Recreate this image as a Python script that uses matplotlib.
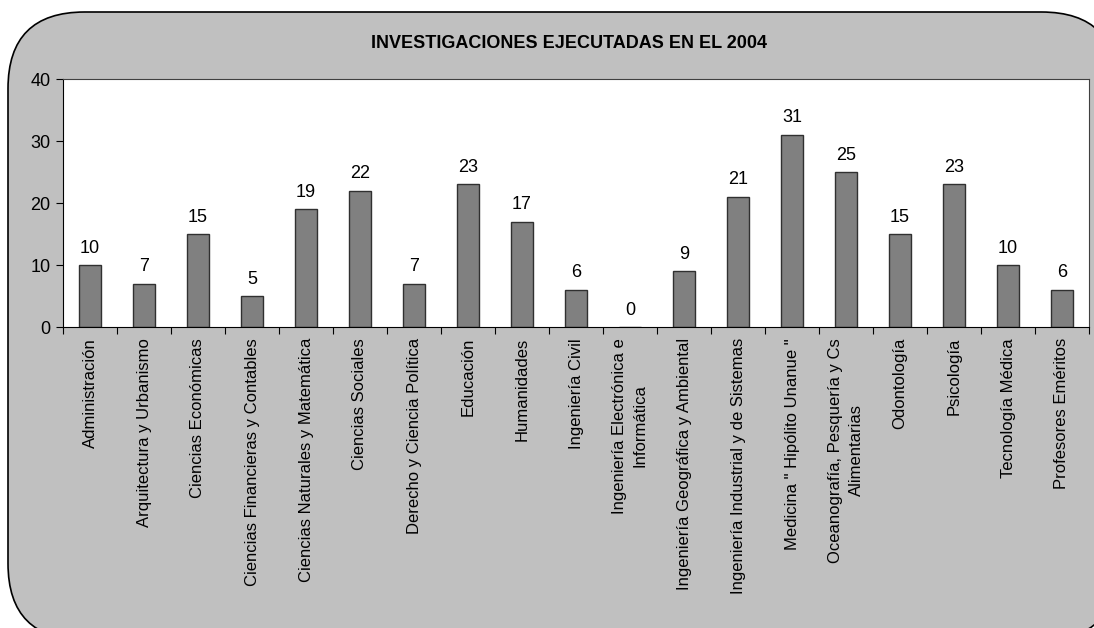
import numpy as np
import matplotlib
matplotlib.use("Agg")
import matplotlib.pyplot as plt
from matplotlib.patches import FancyBboxPatch

plt.rcParams['font.family'] = ['Liberation Sans', 'DejaVu Sans']

# datos
facultades = ["Administración", "Arquitectura y Urbanismo", "Ciencias Económicas",
              "Ciencias Financieras y Contables", "Ciencias Naturales y Matemática",
              "Ciencias Sociales", "Derecho y Ciencia Política", "Educación",
              "Humanidades", "Ingeniería Civil", "Ingeniería Electrónica e\nInformática",
              "Ingeniería Geográfica y Ambiental", "Ingeniería Industrial y de Sistemas",
              "Medicina \" Hipólito Unanue \"", "Oceanografía, Pesquería y Cs\nAlimentarias",
              "Odontología", "Psicología", "Tecnología Médica", "Profesores Eméritos"]
investigaciones = [10, 7, 15, 5, 19, 22, 7, 23, 17, 6, 0, 9, 21, 31, 25, 15, 23, 10, 6]
y_ticks = [0, 10, 20, 30, 40]
titulo = "INVESTIGACIONES EJECUTADAS EN EL 2004"

W, H = 1094, 628
fig = plt.figure(figsize=(W / 100, H / 100), dpi=100, facecolor="white")

# marco gris redondeado (detras de los ejes)
marco = FancyBboxPatch((8 / W, 1 - 640 / H), 1110 / W, 628 / H,
                       boxstyle="round,pad=0,rounding_size=0.07",
                       transform=fig.transFigure, facecolor="#C0C0C0",
                       edgecolor="black", linewidth=1.2, mutation_aspect=W / H,
                       zorder=-10)
fig.patches.append(marco)

ax = fig.add_axes([63 / W, 1 - 327 / H, (1089 - 63) / W, (327 - 79) / H])
ax.set_zorder(5)
ax.set_facecolor("white")

x = np.arange(len(facultades))
barras = ax.bar(x, investigaciones, width=0.41, color="#808080",
                edgecolor="#303030", linewidth=1)
for xi, v in zip(x, investigaciones):
    ax.annotate(str(v), (xi, v), xytext=(0, 6), textcoords="offset points",
                ha="center", va="bottom", fontsize=13)

ax.set_xlim(-0.5, len(facultades) - 0.5)
ax.set_ylim(0, 40)
ax.set_yticks(y_ticks)
ax.tick_params(axis="y", labelsize=13, direction="out", length=5, pad=4)

# ticks de categoria en los bordes, etiquetas al centro
ax.set_xticks(np.arange(len(facultades) + 1) - 0.5)
ax.set_xticklabels([])
ax.set_xticks(x, minor=True)
ax.set_xticklabels(facultades, minor=True, rotation=90, fontsize=12,
                   ha="center", va="top", multialignment="center",
                   linespacing=1.45)
ax.tick_params(axis="x", which="major", direction="out", length=5)
ax.tick_params(axis="x", which="minor", length=0, pad=8)

for s in ["left", "bottom"]:
    ax.spines[s].set_color("black")
for s in ["top", "right"]:
    ax.spines[s].set_color("#404040")

fig.text((63 + 1089) / 2 / W - 7 / W, 1 - 43 / H, titulo, ha="center", va="center",
         fontsize=13, fontweight="bold")

fig.savefig("out.png", dpi=100, facecolor="white")
